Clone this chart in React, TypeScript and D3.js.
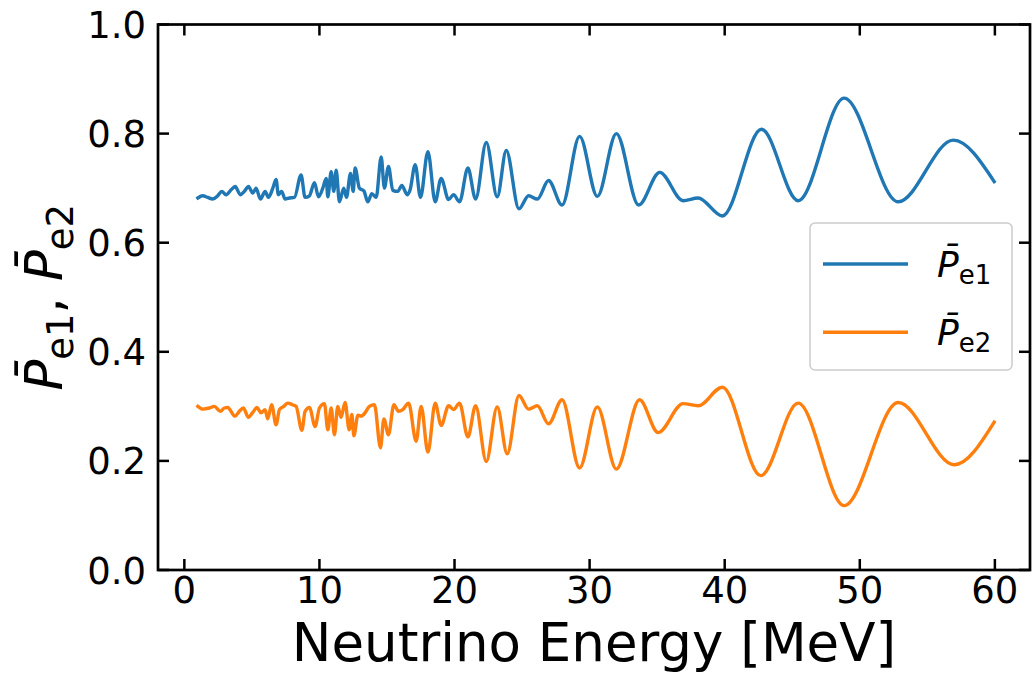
import React from "react";
import * as d3 from "d3";

const xTicks = [0, 10, 20, 30, 40, 50, 60];
const yTicks = [0, 0.2, 0.4, 0.6, 0.8, 1.0];

const energyE1 = [1.0, 1.36, 1.73, 2.1, 2.47, 2.77, 3.09, 3.46, 3.76, 4.15, 4.44, 4.74, 5.07, 5.31, 5.63, 5.98, 6.22, 6.55, 6.79, 6.96, 7.2, 7.46, 7.78, 8.15, 8.64, 8.94, 9.26, 9.63, 9.93, 10.25, 10.5, 10.62, 10.87, 11.06, 11.24, 11.48, 11.8, 12.0, 12.3, 12.5, 12.64, 12.96, 13.29, 13.58, 13.88, 14.2, 14.57, 14.81, 15.11, 15.43, 15.8, 16.1, 16.5, 16.7, 17.09, 17.48, 18.03, 18.57, 19.01, 19.56, 19.93, 20.37, 20.99, 21.56, 22.35, 23.16, 23.83, 24.77, 25.48, 26.13, 26.96, 27.96, 29.26, 30.57, 31.98, 33.63, 35.19, 36.92, 38.03, 39.83, 42.72, 45.44, 48.84, 52.84, 56.92, 59.95];
const pe1 = [0.682, 0.686, 0.683, 0.68, 0.686, 0.694, 0.688, 0.697, 0.703, 0.688, 0.694, 0.703, 0.691, 0.7, 0.68, 0.694, 0.683, 0.7, 0.716, 0.688, 0.694, 0.68, 0.682, 0.683, 0.724, 0.683, 0.686, 0.71, 0.684, 0.7, 0.718, 0.684, 0.73, 0.694, 0.733, 0.675, 0.7, 0.683, 0.727, 0.694, 0.737, 0.7, 0.695, 0.675, 0.69, 0.683, 0.757, 0.7, 0.74, 0.696, 0.694, 0.705, 0.688, 0.696, 0.743, 0.683, 0.767, 0.675, 0.718, 0.679, 0.688, 0.675, 0.737, 0.68, 0.784, 0.684, 0.769, 0.662, 0.686, 0.68, 0.714, 0.669, 0.795, 0.685, 0.8, 0.669, 0.729, 0.677, 0.682, 0.649, 0.808, 0.677, 0.865, 0.675, 0.788, 0.712];

const energyE2 = [1.0, 1.36, 1.85, 2.22, 2.67, 2.96, 3.2, 3.76, 4.07, 4.37, 4.74, 5.07, 5.38, 5.68, 5.98, 6.17, 6.46, 6.79, 7.04, 7.36, 7.66, 8.0, 8.27, 8.7, 8.94, 9.26, 9.68, 10.0, 10.37, 10.62, 10.87, 11.11, 11.36, 11.6, 11.9, 12.2, 12.4, 12.55, 12.85, 13.1, 13.4, 13.7, 14.07, 14.52, 14.77, 15.11, 15.51, 15.85, 16.17, 16.6, 17.16, 17.53, 18.03, 18.57, 19.01, 19.56, 19.93, 20.37, 20.99, 21.56, 22.35, 23.16, 23.9, 24.77, 25.48, 26.13, 26.96, 27.96, 29.26, 30.57, 31.98, 33.7, 35.07, 36.92, 38.03, 39.83, 42.67, 45.44, 48.84, 52.84, 56.99, 59.95];
const pe2 = [0.3, 0.295, 0.297, 0.3, 0.291, 0.297, 0.298, 0.282, 0.291, 0.297, 0.28, 0.289, 0.298, 0.288, 0.294, 0.277, 0.303, 0.266, 0.294, 0.3, 0.306, 0.303, 0.3, 0.256, 0.291, 0.298, 0.263, 0.297, 0.305, 0.257, 0.297, 0.248, 0.3, 0.28, 0.307, 0.257, 0.285, 0.246, 0.284, 0.282, 0.289, 0.3, 0.303, 0.224, 0.277, 0.248, 0.303, 0.291, 0.294, 0.306, 0.236, 0.3, 0.216, 0.306, 0.265, 0.301, 0.294, 0.306, 0.244, 0.301, 0.199, 0.299, 0.213, 0.32, 0.295, 0.301, 0.268, 0.312, 0.187, 0.299, 0.185, 0.312, 0.252, 0.305, 0.301, 0.335, 0.173, 0.306, 0.118, 0.307, 0.193, 0.271];

const seriesNames = ["e1", "e2"];
const seriesColors = ["#1f77b4", "#ff7f0e"];

const W = 1033;
const H = 676;
const left = 158;
const right = 1030;
const top = 24.5;
const bottom = 570;

export default function App() {
  const x = d3.scaleLinear().domain([-1.95, 62.6]).range([left, right]);
  const y = d3.scaleLinear().domain([0, 1]).range([bottom, top]);
  const line = d3
    .line<[number, number]>()
    .x((d) => x(d[0]))
    .y((d) => y(d[1]))
    .curve(d3.curveMonotoneX);

  const d1 = line(energyE1.map((e, i) => [e, pe1[i]] as [number, number])) || "";
  const d2 = line(energyE2.map((e, i) => [e, pe2[i]] as [number, number])) || "";

  const tickLen = 11;
  const font = "'DejaVu Sans', sans-serif";

  return (
    <svg
      width={W}
      height={H}
      style={{ position: "absolute", left: 0, top: 0, background: "#fff" }}
      fontFamily={font}
    >
      <rect x={0} y={0} width={W} height={H} fill="#fff" />
      <defs>
        <clipPath id="plotclip">
          <rect x={left} y={top} width={right - left} height={bottom - top} />
        </clipPath>
      </defs>
      <g clipPath="url(#plotclip)">
        <path d={d1} fill="none" stroke={seriesColors[0]} strokeWidth={3.4} strokeLinejoin="round" strokeLinecap="square" />
        <path d={d2} fill="none" stroke={seriesColors[1]} strokeWidth={3.4} strokeLinejoin="round" strokeLinecap="square" />
      </g>

      {xTicks.map((t) => (
        <g key={"xt" + t}>
          <line x1={x(t)} x2={x(t)} y1={bottom} y2={bottom - tickLen} stroke="#000" strokeWidth={2.5} />
          <line x1={x(t)} x2={x(t)} y1={top} y2={top + tickLen} stroke="#000" strokeWidth={2.5} />
          <text x={x(t)} y={603} fontSize={37} textAnchor="middle" fill="#000">
            {t}
          </text>
        </g>
      ))}
      {yTicks.map((t) => (
        <g key={"yt" + t}>
          <line x1={left} x2={left + tickLen} y1={y(t)} y2={y(t)} stroke="#000" strokeWidth={2.5} />
          <line x1={right} x2={right - tickLen} y1={y(t)} y2={y(t)} stroke="#000" strokeWidth={2.5} />
          <text x={146} y={y(t) + 13.5} fontSize={37} textAnchor="end" fill="#000">
            {t.toFixed(1)}
          </text>
        </g>
      ))}

      <rect x={left} y={top} width={right - left} height={bottom - top} fill="none" stroke="#000" strokeWidth={2.7} />

      <text x={(left + right) / 2} y={661} fontSize={53} textAnchor="middle" fill="#000">
        Neutrino Energy [MeV]
      </text>

      <text
        transform={`translate(62, ${(top + bottom) / 2}) rotate(-90)`}
        fontSize={51}
        textAnchor="middle"
        fill="#000"
      >
        <tspan fontStyle="italic">{"P\u0304"}</tspan>
        <tspan fontSize={37} dy={11}>e1</tspan>
        <tspan dy={-11}>{", "}</tspan>
        <tspan fontStyle="italic">{"P\u0304"}</tspan>
        <tspan fontSize={37} dy={11}>e2</tspan>
      </text>

      <g>
        <rect x={810} y={223} width={202} height={147} rx={5} fill="#fff" fillOpacity={0.8} stroke="#cccccc" strokeWidth={1.5} />
        {seriesNames.map((n, i) => (
          <g key={n}>
            <line x1={823} x2={908} y1={264 + i * 68.3} y2={264 + i * 68.3} stroke={seriesColors[i]} strokeWidth={3.4} />
            <text x={937} y={277 + i * 68.3} fontSize={36} fill="#000">
              <tspan fontStyle="italic">{"P\u0304"}</tspan>
              <tspan fontSize={26} dy={7}>{n}</tspan>
            </text>
          </g>
        ))}
      </g>
    </svg>
  );
}
